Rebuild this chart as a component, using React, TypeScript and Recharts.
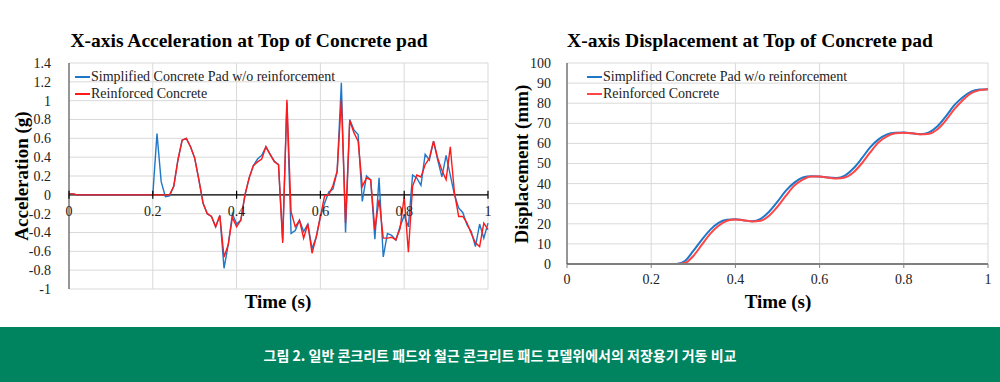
import { LineChart, Line, XAxis, YAxis, CartesianGrid, ReferenceLine } from 'recharts';

// Acceleration samples, every 0.01 s from 0 to 1 s
const accSimplified = [
  0.01, 0.01, 0, 0, 0, 0, 0, 0, 0, 0,
  0, 0, 0, 0, 0, 0, 0, 0, 0, 0,
  0, 0.65, 0.14, -0.02, -0.01, 0.09, 0.37, 0.58, 0.6, 0.51,
  0.39, 0.16, -0.09, -0.2, -0.23, -0.34, -0.22, -0.78, -0.53, -0.2,
  -0.31, -0.27, 0, 0.18, 0.31, 0.38, 0.42, 0.51, 0.43, 0.36,
  0.32, -0.48, 0.98, -0.41, -0.38, -0.27, -0.39, -0.31, -0.57, -0.45,
  -0.23, -0.09, 0.03, 0.06, 0.25, 1.19, -0.4, 0.8, 0.69, 0.64,
  -0.07, 0.2, 0.16, -0.47, 0.18, -0.66, -0.41, -0.43, -0.48, -0.34,
  -0.22, -0.34, 0.21, 0.18, 0.1, 0.43, 0.37, 0.57, 0.37, 0.19,
  0.42, 0.21, 0, -0.14, -0.19, -0.32, -0.39, -0.55, -0.31, -0.46,
  -0.3,
];
const accReinforced = [
  0.01, 0.01, 0, 0, 0, 0, 0, 0, 0, 0,
  0, 0, 0, 0, 0, 0, 0, 0, 0, 0,
  0, 0, 0, 0, 0, 0.09, 0.37, 0.58, 0.6, 0.51,
  0.39, 0.16, -0.09, -0.2, -0.23, -0.34, -0.22, -0.66, -0.53, -0.24,
  -0.34, -0.27, 0, 0.18, 0.31, 0.35, 0.38, 0.51, 0.43, 0.35,
  0.32, -0.51, 1.01, -0.18, -0.34, -0.27, -0.46, -0.31, -0.62, -0.45,
  -0.23, -0.01, 0, 0.1, 0.25, 1.01, -0.3, 0.79, 0.66, 0.57,
  0.09, 0.18, 0.16, -0.37, -0.05, -0.46, -0.46, -0.45, -0.48, -0.36,
  -0.02, -0.61, 0.09, 0.21, 0.19, 0.32, 0.39, 0.57, 0.39, 0.26,
  0.16, 0.51, 0.02, -0.23, -0.23, -0.3, -0.41, -0.51, -0.55, -0.3,
  -0.37,
];

// Displacement samples, every 0.02 s from 0 to 1 s
const dispSimplified = [
  0, 0, 0, 0, 0, 0, 0, 0, 0, 0,
  0, 0, 0, 0, 1.5, 6.5, 12, 17, 20.5, 22,
  22.3, 21.7, 21.3, 22.5, 26, 31, 36.5, 40.5, 43, 43.7,
  43.5, 43, 42.8, 44, 47.5, 52.5, 58, 62, 64.5, 65.3,
  65.4, 65, 64.6, 65.5, 68.5, 73.5, 79, 83, 85.8, 86.8,
  87,
];
const dispReinforced = [
  0, 0, 0, 0, 0, 0, 0, 0, 0, 0,
  0, 0, 0, 0, 0.5, 4, 9.5, 15, 19, 21.5,
  22.2, 21.8, 21.2, 21.5, 24, 28.5, 34, 39, 42, 43.5,
  43.5, 43, 42.5, 43, 45.5, 50, 55.5, 60.5, 63.5, 65,
  65.3, 65, 64.5, 64.8, 67, 71.5, 77, 81.5, 85, 86.5,
  87,
];

const timeTicks = [0, 0.2, 0.4, 0.6, 0.8, 1];
const accTicks = [-1, -0.8, -0.6, -0.4, -0.2, 0, 0.2, 0.4, 0.6, 0.8, 1, 1.2, 1.4];
const dispTicks = [0, 10, 20, 30, 40, 50, 60, 70, 80, 90, 100];

const seriesNames = ['Simplified Concrete Pad w/o reinforcement', 'Reinforced Concrete'];
const caption = '그림 2. 일반 콘크리트 패드와 철근 콘크리트 패드 모델위에서의 저장용기 거동 비교';

const accData = accSimplified.map((v, i) => ({ t: i / 100, simple: v, reinf: accReinforced[i] }));
const dispData = dispSimplified.map((v, i) => ({ t: i / 50, simple: v, reinf: dispReinforced[i] }));

const SERIF = "'Liberation Serif', 'Times New Roman', serif";
const BLUE = '#1f77c8';
const RED = '#ff1a1a';
const GRID = '#d9d9d9';

const PLOT_TOP = 63;
const ACC_PLOT_H = 226;
const ZERO_Y = PLOT_TOP + (1.4 / 2.4) * ACC_PLOT_H;

function AccXTick(props: any) {
  const { x, payload } = props;
  return (
    <g>
      <line x1={x} x2={x} y1={ZERO_Y - 4} y2={ZERO_Y + 4} stroke="#000" strokeWidth={1.2} />
      <text x={x} y={ZERO_Y + 17} textAnchor="middle" dominantBaseline="central" fontFamily={SERIF} fontSize={14} fill="#222">
        {payload.value}
      </text>
    </g>
  );
}

function Legend2({ left, top, red }: { left: number; top: number; red: string }) {
  const colors = [BLUE, red];
  return (
    <div style={{ position: 'absolute', left, top, fontFamily: SERIF, fontSize: 14, color: '#222' }}>
      {seriesNames.map((n, i) => (
        <div key={n} style={{ display: 'flex', alignItems: 'center', height: 17.5, whiteSpace: 'nowrap' }}>
          <span style={{ display: 'inline-block', width: 15, height: 1.6, background: colors[i], marginRight: 1 }} />
          {n}
        </div>
      ))}
    </div>
  );
}

function Title({ text, cx }: { text: string; cx: number }) {
  return (
    <div style={{ position: 'absolute', left: cx - 250, top: 29, width: 500, textAlign: 'center', fontFamily: SERIF, fontWeight: 700, fontSize: 19.5, lineHeight: '24px', color: '#000', whiteSpace: 'nowrap' }}>
      {text}
    </div>
  );
}

function AxisTitle({ text, cx, cy, rotate }: { text: string; cx: number; cy: number; rotate?: boolean }) {
  return (
    <div style={{ position: 'absolute', left: cx - 150, top: cy - 12, width: 300, textAlign: 'center', fontFamily: SERIF, fontWeight: 700, fontSize: 19, lineHeight: '24px', color: '#000', whiteSpace: 'nowrap', transform: rotate ? 'rotate(-90deg)' : undefined }}>
      {text}
    </div>
  );
}

const tickStyle = { fontFamily: SERIF, fontSize: 14, fill: '#222' };

export default function App() {
  return (
    <div style={{ position: 'absolute', left: 0, top: 0, width: 1000, height: 382, background: '#fff', overflow: 'hidden' }}>
      <div style={{ position: 'absolute', left: 0, top: 0 }}>
        <LineChart width={500} height={320} data={accData} margin={{ top: PLOT_TOP, right: 12, bottom: 0, left: 0 }}>
          <CartesianGrid stroke={GRID} strokeWidth={1} />
          <XAxis dataKey="t" type="number" domain={[0, 1]} ticks={timeTicks} height={31} axisLine={false} tickLine={false} tick={<AccXTick />} interval={0} />
          <YAxis type="number" domain={[-1, 1.4]} ticks={accTicks} width={69} interval={0} axisLine={{ stroke: '#404040' }} tickLine={false} tickMargin={12} tick={tickStyle} />
          <ReferenceLine y={0} stroke="#000" strokeWidth={1.3} />
          <Line type="linear" dataKey="simple" stroke={BLUE} strokeWidth={1.4} dot={false} isAnimationActive={false} />
          <Line type="linear" dataKey="reinf" stroke={RED} strokeWidth={1.4} dot={false} isAnimationActive={false} />
        </LineChart>
      </div>
      <div style={{ position: 'absolute', left: 500, top: 0 }}>
        <LineChart width={500} height={320} data={dispData} margin={{ top: PLOT_TOP, right: 12, bottom: 0, left: 0 }}>
          <CartesianGrid stroke={GRID} strokeWidth={1} />
          <XAxis dataKey="t" type="number" domain={[0, 1]} ticks={timeTicks} height={56} interval={0} axisLine={{ stroke: '#7f7f7f', strokeWidth: 2 }} tickLine={{ stroke: '#7f7f7f' }} tickSize={4} tickMargin={6} tick={tickStyle} />
          <YAxis type="number" domain={[0, 100]} ticks={dispTicks} width={67} interval={0} axisLine={{ stroke: '#404040' }} tickLine={false} tickMargin={10} tick={tickStyle} />
          <Line type="monotone" dataKey="simple" stroke={BLUE} strokeWidth={2} dot={false} isAnimationActive={false} />
          <Line type="monotone" dataKey="reinf" stroke="#ff4545" strokeWidth={2} dot={false} isAnimationActive={false} />
        </LineChart>
      </div>

      <Title text="X-axis Acceleration at Top of Concrete pad" cx={249} />
      <Title text="X-axis Displacement at Top of Concrete pad" cx={750} />
      <AxisTitle text="Acceleration (g)" cx={22} cy={176} rotate />
      <AxisTitle text="Displacement (mm)" cx={522} cy={164} rotate />
      <AxisTitle text="Time (s)" cx={278} cy={302} />
      <AxisTitle text="Time (s)" cx={778} cy={302} />
      <Legend2 left={75} top={68} red={RED} />
      <Legend2 left={587} top={68} red="#ff4545" />

      <div style={{ position: 'absolute', left: 0, top: 327, width: 1000, height: 55, background: '#00845f', display: 'flex', alignItems: 'center', justifyContent: 'center' }}>
        <span style={{ fontFamily: "'Noto Sans CJK KR', sans-serif", fontWeight: 700, fontSize: 14, color: '#fff' }}>{caption}</span>
      </div>
    </div>
  );
}
